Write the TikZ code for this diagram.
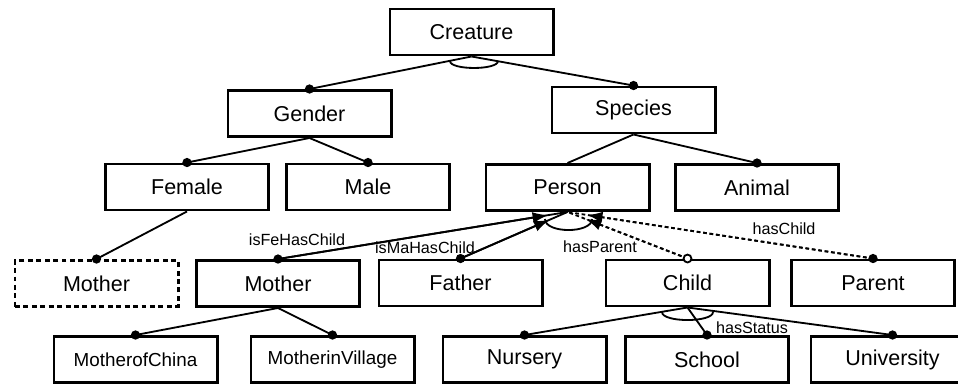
\documentclass[tikz,border=0pt]{standalone}
\usepackage{fontspec}
\setmainfont{Liberation Sans}
\usetikzlibrary{arrows.meta,calc}

\begin{document}
\begin{tikzpicture}[x=0.025cm,y=-0.025cm,>={Latex[length=11pt,width=8pt]},
  box/.style={draw,line width=2.1pt,minimum width=4.075cm,minimum height=1.15cm,inner sep=0pt,font=\fontsize{15.3}{18}\selectfont},
  smallbox/.style={box,font=\fontsize{13.4}{16}\selectfont},
  link/.style={line width=1.3pt},
  dotted link/.style={link,dash pattern=on 2.6pt off 2pt},
  role/.style={inner sep=0pt,font=\fontsize{11.5}{13}\selectfont}]
  \useasboundingbox (0,0) rectangle (958,383);

  % classes, row by row
  \node[box] (creature) at (471.5,32) {Creature};
  \node[box] (gender) at (309.5,113.5) {Gender};
  \node[box] (species) at (633.5,110) {Species};
  \node[box] (female) at (187,187) {Female};
  \node[box] (male) at (368,187) {Male};
  \node[box] (person) at (567.5,187.5) {Person};
  \node[box] (animal) at (757,187.5) {Animal};
  \node[box,dash pattern=on 3.5pt off 2.5pt] (femmother) at (96.5,283.5) {Mother};
  \node[box] (mother) at (278,283.5) {Mother};
  \node[box] (father) at (460.5,283) {Father};
  \node[box] (child) at (687.5,283) {Child};
  \node[box] (parent) at (873,283) {Parent};
  \node[smallbox] (china) at (135.5,359.5) {MotherofChina};
  \node[smallbox] (village) at (332.5,359.5) {MotherinVillage};
  \node[box] (nursery) at (524.5,359.5) {Nursery};
  \node[box] (school) at (707,359.5) {School};
  \node[box] (university) at (892.5,359.5) {University};

  % subclass links
  \draw[link] (species.south) -- (person.north);
  \foreach \a/\b in {creature/gender,creature/species,gender/female,gender/male,
      species/animal,female/femmother,mother/china,mother/village,
      child/nursery,child/school,child/university} {
    \draw[link] (\a.south) -- (\b.north);
    \fill (\b.north) circle (3.3pt);
  }

  % partition arcs
  \draw[link] (450,61) .. controls (450,70.3) and (498,70.3) .. (498,61);
  \draw[link] (545,219) .. controls (545,233.7) and (592,233.7) .. (592,219);
  \draw[link] (662,312) .. controls (662,322.7) and (713,322.7) .. (713,312);

  % relations to Person
  \draw[link] (mother.north) -- (person.south);
  \draw[link,->] (mother.north) -- ($(person.south)!14pt!(mother.north)$);
  \fill (mother.north) circle (3.3pt);
  \draw[link] (father.north) -- (person.south);
  \draw[link,->] (father.north) -- ($(person.south)!14pt!(father.north)$);
  \fill (father.north) circle (3.3pt);
  \draw[dotted link] (child.north) -- (person.south);
  \draw[dotted link,->] (child.north) -- ($(person.south)!14pt!(child.north)$);
  \draw[link,fill=white] (child.north) circle (2.8pt);
  \draw[dotted link] (parent.north) -- (person.south);
  \draw[dotted link,->] (parent.north) -- ($(person.south)!14pt!(parent.north)$);
  \fill (parent.north) circle (3.3pt);

  % relation names
  \node[role] (fehas) at (297,240) {isFeHasChild};
  \node[role] (mahas) at (425,248) {isMaHasChild};
  \node[role] (hasparent) at (600,247) {hasParent};
  \node[role] (haschild) at (784,229) {hasChild};
  \node[role] (hasstatus) at (752,328) {hasStatus};
\end{tikzpicture}
\end{document}
